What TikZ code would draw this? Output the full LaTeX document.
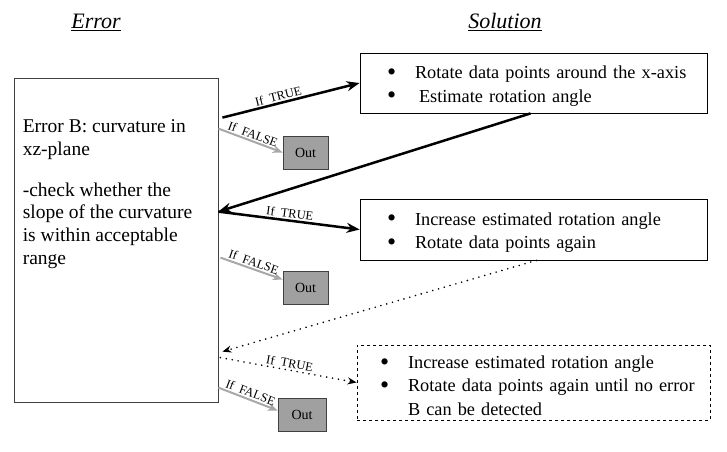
\documentclass[tikz,border=0pt]{standalone}
\usepackage{fontspec}
\setmainfont{Liberation Serif}
\usetikzlibrary{arrows.meta}

\definecolor{outgray}{HTML}{A0A0A0}
\definecolor{falsegray}{HTML}{A8A8A8}

\tikzstyle{every node}=[font=\fontsize{19.5}{22.7}\selectfont, inner sep=0pt]
\tikzstyle{title}=[font=\fontsize{22}{26}\selectfont]
\tikzstyle{errbox}=[draw=black!75, line width=0.8pt, minimum width=204pt, minimum height=324pt]
\tikzstyle{solbox}=[draw, line width=0.8pt, text width=293pt, inner xsep=27pt, align=left, font=\fontsize{18.3}{23.3}\selectfont]
\tikzstyle{outbox}=[draw=black!75, fill=outgray, line width=0.8pt, minimum width=45pt, minimum height=33pt, font=\fontsize{14}{16}\selectfont]
\tikzstyle{lbl}=[font=\fontsize{12.5}{14}\selectfont, sloped, above=1.5pt]
\tikzstyle{truearrow}=[line width=2.5pt, -{Stealth[length=13pt,width=10pt]}]
\tikzstyle{falsearrow}=[draw=falsegray, line width=2pt, -{Stealth[length=10pt,width=8pt]}]
\tikzstyle{dotarrow}=[line width=1.8pt, line cap=round, dash pattern=on 0pt off 6pt, -{Stealth[length=9pt,width=7pt]}]

\newcommand{\bul}{\makebox[28pt][l]{\raisebox{-1.5pt}{\fontsize{26}{23.3}\selectfont\textbullet}}}
\newcommand{\solline}[1]{\mbox{#1}}
\newcommand{\topgap}{\rule{0pt}{19pt}}

\begin{document}
\begin{tikzpicture}[x=1pt, y=-1pt]
  \useasboundingbox (0,0) rectangle (727,451);

  \node[title] (errtitle) at (96,22) {\underline{\textit{Error}}};
  \node[title] (soltitle) at (505,22) {\underline{\textit{Solution}}};

  \node[errbox] (err) at (116,240) {};
  \node[anchor=north west, align=left] (errtext) at ([shift={(9pt,-42pt)}]err.north west)
     {Error B: curvature in\\xz-plane\\[18pt]-check whether the\\slope of the curvature\\is within acceptable\\range};

  \node[solbox, minimum height=60pt] (sol1) at (533.5,83)
     {\solline{\topgap\bul Rotate data points around the x-axis}\\\solline{\bul\hspace{4pt}Estimate rotation angle}};
  \node[solbox, minimum height=61pt] (sol2) at (533.5,229.5)
     {\solline{\topgap\bul Increase estimated rotation angle}\\\solline{\bul Rotate data points again}};
  \node[solbox, dashed, minimum height=75pt, text width=307pt, inner xsep=23pt] (sol3) at (533.5,382.5)
     {\solline{\topgap\bul Increase estimated rotation angle}\\\solline{\bul Rotate data points again until no error}\\\solline{\hspace*{28pt}B can be detected}};

  \node[outbox] (out1) at (305.5,152.5) {Out};
  \node[outbox] (out2) at (305.5,287.5) {Out};
  \node[outbox, minimum width=48pt] (out3) at (302,414.5) {Out};

  \draw[truearrow] ([shift={(4pt,-40pt)}]err.north east)
     -- node[lbl, pos=0.42] {If~ TRUE} (sol1.west);
  \draw[falsearrow] ([shift={(0pt,-51pt)}]err.north east)
     -- node[lbl] {If~ FALSE} (out1.west);
  \draw[truearrow] ([xshift=-3pt]sol1.south) -- ([shift={(0pt,-134pt)}]err.north east);
  \draw[truearrow] ([shift={(0pt,-134pt)}]err.north east)
     -- node[lbl] {If~ TRUE} (sol2.west);
  \draw[falsearrow] ([shift={(2pt,-180pt)}]err.north east)
     -- node[lbl] {If~ FALSE} ([yshift=8pt]out2.west);
  \draw[dotarrow] ([xshift=3pt]sol2.south) -- ([shift={(4pt,-274pt)}]err.north east);
  \draw[dotarrow] ([shift={(2pt,-280pt)}]err.north east)
     -- node[lbl] {If~ TRUE} (sol3.west);
  \draw[falsearrow] ([shift={(0pt,-310pt)}]err.north east)
     -- node[lbl] {If~ FALSE} ([yshift=4pt]out3.west);
\end{tikzpicture}
\end{document}
